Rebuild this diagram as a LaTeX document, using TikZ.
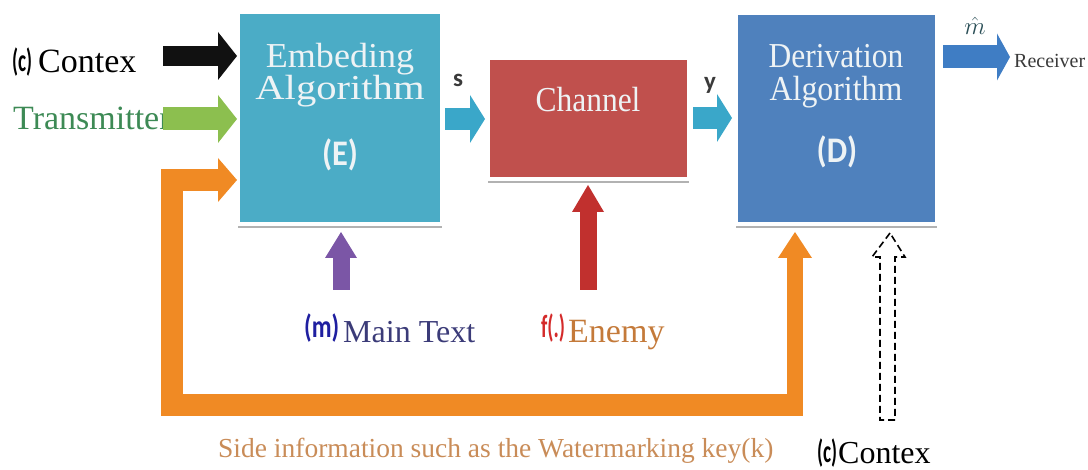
\documentclass[tikz,border=0pt]{standalone}
\usepackage{fontspec}
\setmainfont{Liberation Serif}
\newfontfamily\calfont{Carlito}
\usetikzlibrary{arrows.meta,shadows}

\definecolor{embcol}{HTML}{4BACC6}
\definecolor{chcol}{HTML}{C0504D}
\definecolor{dercol}{HTML}{4F81BD}
\definecolor{boxtext}{HTML}{EEF3F5}
\definecolor{arrblack}{HTML}{111111}
\definecolor{arrgreen}{HTML}{8CBF4F}
\definecolor{arrcyan}{HTML}{3AA7C9}
\definecolor{arrblue}{HTML}{3F7DC4}
\definecolor{arrpurple}{HTML}{7B56A6}
\definecolor{arrred}{HTML}{C1302E}
\definecolor{arrorange}{HTML}{F08A24}
\definecolor{txgreen}{HTML}{3D8A55}
\definecolor{mblue}{HTML}{1F1FA0}
\definecolor{maintx}{HTML}{3B3B78}
\definecolor{fred}{HTML}{D42A2A}
\definecolor{enemytx}{HTML}{C47A3A}
\definecolor{sidetx}{HTML}{C98C58}
\definecolor{mhatcol}{HTML}{2B4F57}
\definecolor{smalltx}{HTML}{3A3A3A}

\newcommand\sx[2]{\scalebox{#1}[1]{#2}}
\newcommand\fs[1]{\fontsize{#1}{#1}\selectfont}

\begin{document}
\begin{tikzpicture}[x=1pt,y=-1pt,
  box/.style={draw=white, line width=4pt, inner sep=0pt,
    drop shadow={shadow xshift=0pt, shadow yshift=-4pt, fill=black, opacity=.3}},
  boxtxt/.style={text=boxtext, font=\fs{35}, anchor=base, inner sep=0pt},
  keytxt/.style={text=boxtext, font=\calfont\bfseries\fs{36}, inner sep=0pt},
  lbl/.style={anchor=base west, inner sep=0pt},
  tag/.style={anchor=base west, inner sep=0pt, font=\calfont\bfseries\fs{32}},
  blk/.style args={#1/#2/#3}{line width=#1,
    -{Triangle[length=#2, width=#3, line width=0pt]}},
]
\useasboundingbox (0,0) rectangle (1088,470);

% processing blocks
\node[box, fill=embcol, minimum width=204pt, minimum height=212pt] (E) at (340,118) {};
\node[box, fill=chcol,  minimum width=201pt, minimum height=121pt] (Ch) at (588.5,118.5) {};
\node[box, fill=dercol, minimum width=201pt, minimum height=211pt] (D) at (836.5,118.5) {};

\node[boxtxt] (e1) at (340,68)  {\sx{1.03}{Embeding}};
\node[boxtxt] (e2) at (340,100) {\sx{1.16}{Algorithm}};
\node[keytxt] (e3) at (340,155) {\sx{0.9}{(E)}};
\node[boxtxt] (c1) at (588,112) {\sx{0.9}{Channel}};
\node[boxtxt] (d1) at (836,68)  {\sx{0.9}{Derivation}};
\node[boxtxt] (d2) at (836,101) {\sx{0.91}{Algorithm}};
\node[keytxt] (d3) at (837,152) {\sx{0.9}{(D)}};

% labels
\node[tag] (cA1) at (12,72) {\sx{0.6}{(c)}};
\node[lbl, font=\fs{34}] (cA2) at (38,73) {Contex};
\node[lbl, font=\fs{34}, text=txgreen] (tr) at (13,130) {Transmitter};
\node[tag, text=mblue] (mm) at (304,338) {\sx{0.76}{(m)}};
\node[lbl, font=\fs{32}, text=maintx] (mt) at (343,343) {Main Text};
\node[tag, text=fred] (ff) at (541,338) {\sx{0.62}{f(.)}};
\node[lbl, font=\fs{34}, text=enemytx] (en) at (568,343) {Enemy};
\node[lbl, font=\fs{27.5}, text=sidetx] (side) at (218,457)
  {Side information such as the Watermarking key(k)};
\node[tag] (cB1) at (817,463) {\sx{0.6}{(c)}};
\node[lbl, font=\fs{32}] (cB2) at (838,464) {Contex};
\node[lbl, font=\fs{20}, text=smalltx] (rc) at (1014,68) {Receiver};
\node[inner sep=0pt, font=\calfont\bfseries\fs{25}, text=smalltx] (sl) at (458,80) {s};
\node[inner sep=0pt, font=\calfont\bfseries\fs{25}, text=smalltx] (yl) at (710,85) {y};
\node[inner sep=0pt, font=\fs{26}, text=mhatcol] (mh) at (975,26) {$\hat{m}$};

% arrow end points
\coordinate (k0) at (163,56);  \coordinate (k1) at (237,56);
\coordinate (g0) at (163,119); \coordinate (g1) at (237,119);
\coordinate (s0) at (445,119); \coordinate (s1) at (485,119);
\coordinate (y0) at (693,118); \coordinate (y1) at (732,118);
\coordinate (r0) at (943,57);  \coordinate (r1) at (1010,57);
\coordinate (p0) at (341,290); \coordinate (p1) at (341,232);
\coordinate (f0) at (588,290); \coordinate (f1) at (588,185);
\coordinate (oE) at (237,180); \coordinate (oL) at (172,180);
\coordinate (oB) at (172,405); \coordinate (oR) at (803,405);
\coordinate (oD0) at (795,416); \coordinate (oD) at (795,232);
\coordinate (ctip) at (890,233);

% inputs and signal flow
\draw[blk=20pt/19pt/48pt, draw=arrblack] (k0) -- (k1);
\draw[blk=23pt/19pt/48pt, draw=arrgreen] (g0) -- (g1);
\draw[blk=22pt/15pt/48pt, draw=arrcyan] (s0) -- (s1);
\draw[blk=22pt/15pt/48pt, draw=arrcyan] (y0) -- (y1);
\draw[blk=23pt/13pt/47pt, draw=arrblue] (r0) -- (r1);
\draw[blk=17pt/26pt/32pt, draw=arrpurple] (p0) -- (p1);
\draw[blk=17pt/27pt/32pt, draw=arrred] (f0) -- (f1);

% side information loop
\draw[line width=22pt, line join=miter, draw=arrorange,
  {Triangle[length=19pt, width=44pt, line width=0pt]}-] (oE) -- (oL) -- (oB) -- (oR);
\draw[blk=16pt/26pt/34pt, draw=arrorange] (oD0) -- (oD);

% context at the decoder (dashed outline arrow)
\draw[line width=1.6pt, dash pattern=on 7pt off 4pt, line join=miter]
  (ctip) -- ++(-18,24) -- ++(8,0) -- ++(0,163) -- ++(15,0) -- ++(0,-163)
  -- ++(10,0) -- cycle;
\end{tikzpicture}
\end{document}
